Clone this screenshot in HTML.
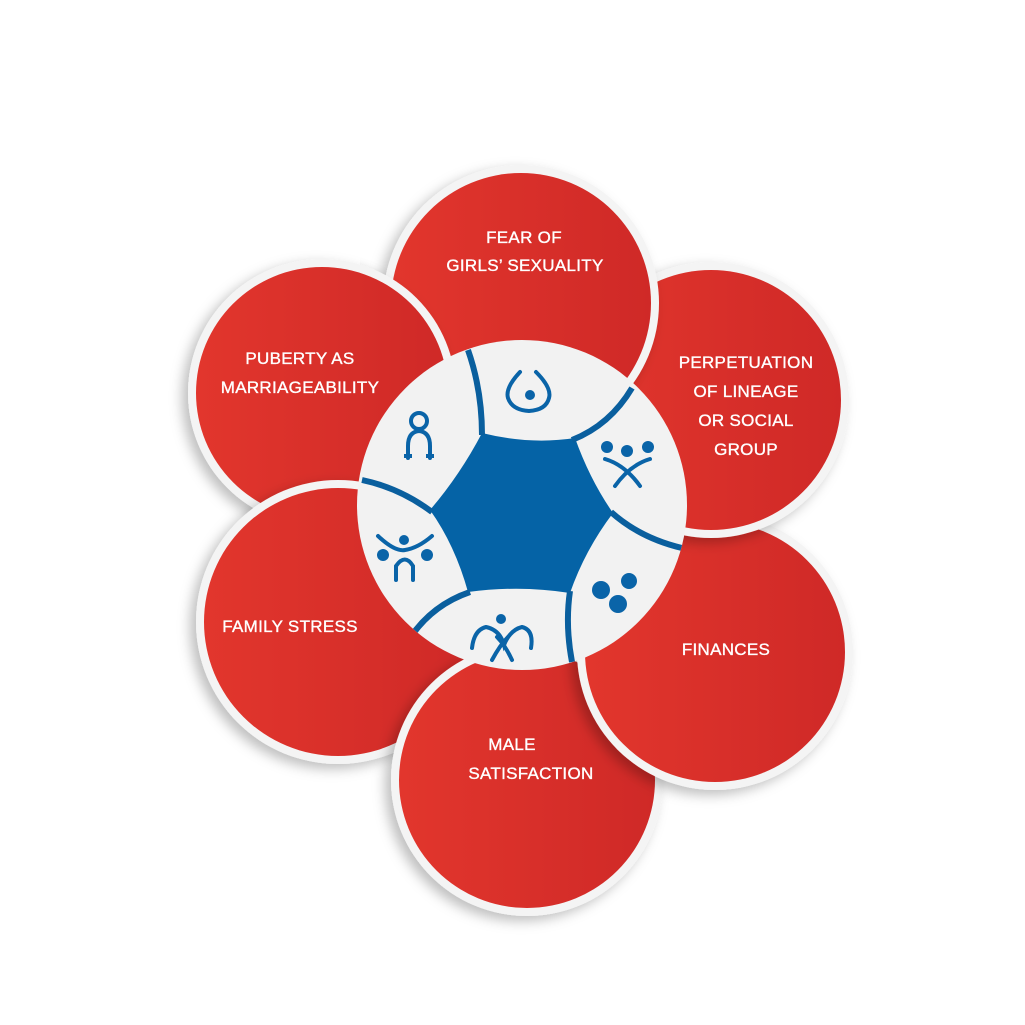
<!DOCTYPE html>
<html><head><meta charset="utf-8"><style>
html,body{margin:0;padding:0;background:#fff;}
svg{display:block}
text{font-family:"Liberation Sans",sans-serif;font-size:17px;fill:#fff;text-anchor:middle;letter-spacing:0.3px;stroke:#fff;stroke-width:0.35}
</style></head><body>
<svg width="1025" height="1025" viewBox="0 0 1025 1025" xmlns="http://www.w3.org/2000/svg">
<defs>
<linearGradient id="rg" x1="0" x2="1" y1="0" y2="0">
<stop offset="0" stop-color="#e2362d"/><stop offset="1" stop-color="#cf2927"/>
</linearGradient>
<filter id="sh" x="-30%" y="-30%" width="160%" height="160%">
<feDropShadow dx="-6" dy="5" stdDeviation="6" flood-color="#000" flood-opacity="0.25"/>
</filter>
<clipPath id="disk"><circle cx="522" cy="505" r="165"/></clipPath>
<clipPath id="pubclip"><rect x="360" y="240" width="130" height="200"/></clipPath>
<g id="cPub"><circle cx="322" cy="393" r="134" fill="#f4f4f4" filter="url(#sh)"/><circle cx="322" cy="393" r="126" fill="url(#rg)"/></g>
</defs>

<use href="#cPub"/>
<g><circle cx="338" cy="622" r="142" fill="#f4f4f4" filter="url(#sh)"/><circle cx="338" cy="622" r="134" fill="url(#rg)"/></g>
<g><circle cx="527" cy="780" r="136" fill="#f4f4f4" filter="url(#sh)"/><circle cx="527" cy="780" r="128" fill="url(#rg)"/></g>
<g><circle cx="715" cy="652" r="138" fill="#f4f4f4" filter="url(#sh)"/><circle cx="715" cy="652" r="130" fill="url(#rg)"/></g>
<g><circle cx="711" cy="400" r="138" fill="#f4f4f4" filter="url(#sh)"/><circle cx="711" cy="400" r="130" fill="url(#rg)"/></g>
<g><circle cx="521" cy="303" r="138" fill="#f4f4f4" filter="url(#sh)"/><circle cx="521" cy="303" r="130" fill="url(#rg)"/></g>
<g clip-path="url(#pubclip)"><use href="#cPub"/></g>

<circle cx="522" cy="505" r="165" fill="#f2f2f2"/>
<!-- blue hexagon -->
<path d="M482,433 Q530,445 575,438 Q590,480 613,513 Q585,550 570,593 Q520,585 468,592 Q455,545 430,510 Q460,475 482,433 Z" fill="#0563a6"/>
<!-- segment arcs -->
<g clip-path="url(#disk)" fill="none" stroke="#0a5f9e" stroke-width="6">
<path d="M468,350 Q482,390 482,435"/>
<path d="M632,388 Q610,425 572,440"/>
<path d="M682,548 Q640,538 611,512"/>
<path d="M572,662 Q565,625 570,591"/>
<path d="M410,638 Q432,605 470,592"/>
<path d="M362,480 Q400,488 432,512"/>
</g>

<!-- icons -->
<g fill="none" stroke="#0a64a8" stroke-width="4" stroke-linecap="round">
<path d="M520,372 Q505,388 508,398 Q512,410 529,411 Q546,410 549,398 Q552,388 536,372"/>
<circle cx="419" cy="421" r="8"/>
<path d="M408,458 L408,446 Q408,432 419,431 Q430,432 430,446 L430,458" />
</g>
<g fill="#0a64a8">
<circle cx="530" cy="395" r="5"/>
<rect x="404" y="454" width="8" height="4"/><rect x="426" y="454" width="8" height="4"/>
<circle cx="607" cy="447" r="6"/><circle cx="627" cy="451" r="6"/><circle cx="648" cy="447" r="6"/>
<circle cx="601" cy="590" r="9"/><circle cx="629" cy="581" r="8"/><circle cx="618" cy="604" r="9"/>
<circle cx="404" cy="540" r="5"/><circle cx="383" cy="555" r="6"/><circle cx="427" cy="555" r="6"/>
<circle cx="501" cy="619" r="5"/>
</g>
<g fill="none" stroke="#0a64a8" stroke-width="4" stroke-linecap="round">
<path d="M605,459 Q625,465 640,486"/><path d="M650,459 Q630,465 615,486"/>
<path d="M378,536 Q395,552 405,550 Q418,548 432,536"/>
<path d="M396,580 L396,566 Q405,553 413,566 L413,580"/>
<path d="M472,648 Q474,630 486,627 Q500,630 504,645 Q510,630 522,627 Q534,630 531,648"/>
<path d="M492,660 Q500,645 508,637"/><path d="M512,660 Q505,645 497,637"/>
</g>

<text x="524" y="243">FEAR OF</text>
<text x="525" y="271">GIRLS’ SEXUALITY</text>
<text x="300" y="364">PUBERTY AS</text>
<text x="300" y="393">MARRIAGEABILITY</text>
<text x="746" y="368">PERPETUATION</text>
<text x="746" y="397">OF LINEAGE</text>
<text x="746" y="426">OR  SOCIAL</text>
<text x="746" y="455">GROUP</text>
<text x="290" y="632">FAMILY STRESS</text>
<text x="726" y="655">FINANCES</text>
<text x="512" y="750">MALE</text>
<text x="531" y="779">SATISFACTION</text>
</svg>
</body></html>
